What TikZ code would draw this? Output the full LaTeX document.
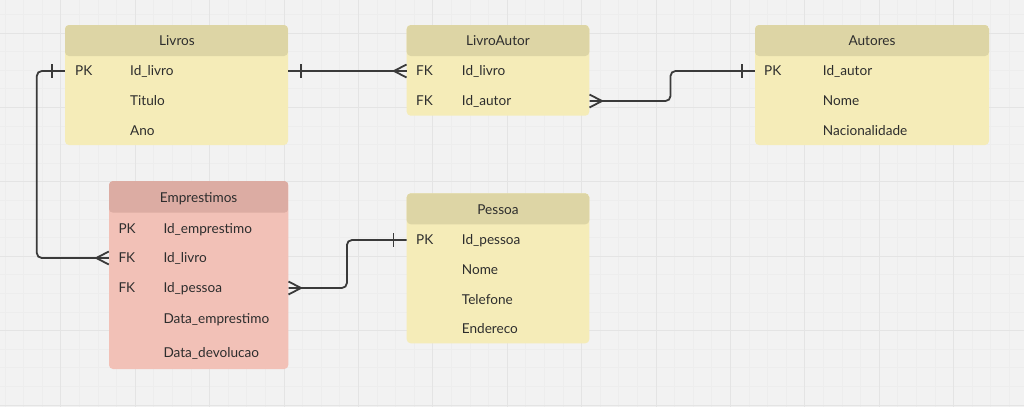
\documentclass[tikz,border=0pt]{standalone}
\usepackage{fontspec}
\setmainfont{Lato}
\definecolor{bg}{RGB}{242,242,242}
\definecolor{gmaj}{RGB}{228,228,228}
\definecolor{gmin}{RGB}{237,237,237}
\definecolor{ybody}{RGB}{245,236,184}
\definecolor{yhead}{RGB}{221,213,165}
\definecolor{rbody}{RGB}{242,193,183}
\definecolor{rhead}{RGB}{220,172,163}
\definecolor{txt}{RGB}{45,45,45}
\definecolor{ln}{RGB}{58,58,58}
\tikzset{
  ytable/.style={inner sep=0pt, fill=ybody, rounded corners=4pt,
    path picture={\fill[yhead] (path picture bounding box.north west) rectangle ([yshift=-31pt]path picture bounding box.north east);}},
  rtable/.style={inner sep=0pt, fill=rbody, rounded corners=4pt,
    path picture={\fill[rhead] (path picture bounding box.north west) rectangle ([yshift=-31.7pt]path picture bounding box.north east);}},
  cell/.style={anchor=west, inner sep=0pt, text height=9.8pt, text depth=0pt, font=\fontsize{13.6}{15}\selectfont, text=txt},
  ttl/.style={anchor=center, inner sep=0pt, text height=9.8pt, text depth=0pt, font=\fontsize{13.6}{15}\selectfont, text=txt},
  conn/.style={draw=ln, line width=1.8pt, rounded corners=5pt},
  tickmark/.style={draw=ln, line width=1.8pt},
}
\begin{document}
\begin{tikzpicture}[x=1pt,y=-1pt]
\useasboundingbox (0,0) rectangle (1024,407);
\fill[bg] (0,0) rectangle (1024,407);
% grid
\foreach \i in {-3,...,52} {\draw[gmin, line width=0.8pt] ({60.8+18.6*\i},0) -- ({60.8+18.6*\i},407);}
\foreach \i in {-1,...,20} {\draw[gmin, line width=0.8pt] (0,{33+18.6*\i}) -- (1024,{33+18.6*\i});}
\foreach \i in {0,...,13} {\draw[gmaj, line width=1pt] ({60.8+74.4*\i},0) -- ({60.8+74.4*\i},407);}
\foreach \i in {0,...,5} {\draw[gmaj, line width=1pt] (0,{33+74.4*\i}) -- (1024,{33+74.4*\i});}

% Livros
\node[ytable, minimum width=223pt, minimum height=120pt] (livros) at (176.5,85) {};
\node[ttl] (lv-t) at (177,41) {Livros};
\node[cell] (lv-pk) at (75,71) {PK};
\node[cell] (lv-1) at (130,71) {Id\_livro};
\node[cell] (lv-2) at (130,101) {Titulo};
\node[cell] (lv-3) at (130,131) {Ano};

% LivroAutor
\node[ytable, minimum width=182.6pt, minimum height=90.7pt] (la) at (498,70.35) {};
\node[ttl] (la-t) at (498,41) {LivroAutor};
\node[cell] (la-fk1) at (416,71) {FK};
\node[cell] (la-1) at (461.7,71) {Id\_livro};
\node[cell] (la-fk2) at (416,101) {FK};
\node[cell] (la-2) at (461.7,101) {Id\_autor};

% Autores
\node[ytable, minimum width=234pt, minimum height=120pt] (au) at (872,85) {};
\node[ttl] (au-t) at (872,41) {Autores};
\node[cell] (au-pk) at (764,71) {PK};
\node[cell] (au-1) at (822.7,71) {Id\_autor};
\node[cell] (au-2) at (822.7,101) {Nome};
\node[cell] (au-3) at (822.7,131) {Nacionalidade};

% Emprestimos
\node[rtable, minimum width=179.3pt, minimum height=188pt] (em) at (198.65,275) {};
\node[ttl] (em-t) at (198.65,197.3) {Emprestimos};
\node[cell] (em-pk) at (118.3,228.3) {PK};
\node[cell] (em-1) at (163.3,228.3) {Id\_emprestimo};
\node[cell] (em-fk1) at (118.3,258) {FK};
\node[cell] (em-2) at (163.3,258) {Id\_livro};
\node[cell] (em-fk2) at (118.3,288) {FK};
\node[cell] (em-3) at (163.3,288) {Id\_pessoa};
\node[cell] (em-4) at (163.3,318.3) {Data\_emprestimo};
\node[cell] (em-5) at (163.3,352.7) {Data\_devolucao};

% Pessoa
\node[ytable, minimum width=182.6pt, minimum height=150pt] (pe) at (498,268.3) {};
\node[ttl] (pe-t) at (498,209.3) {Pessoa};
\node[cell] (pe-pk) at (416,240) {PK};
\node[cell] (pe-1) at (461.7,240) {Id\_pessoa};
\node[cell] (pe-2) at (461.7,270) {Nome};
\node[cell] (pe-3) at (461.7,300) {Telefone};
\node[cell] (pe-4) at (461.7,329) {Endereco};

% connector Livros -> Emprestimos
\coordinate (a1) at (livros.west |- lv-pk);
\coordinate (a2) at (em.west |- em-fk1);
\draw[conn] (a1) -- ++(-28,0) |- (a2);
\draw[tickmark] ([xshift=-13pt]a1) ++(0,-7) -- ++(0,14);
\draw[tickmark] (a2) ++(-12.5,0) -- ++(12.5,-6.5) (a2) ++(-12.5,0) -- ++(12.5,6.5);

% connector Livros -> LivroAutor
\coordinate (b1) at (livros.east |- lv-1);
\coordinate (b2) at (la.west |- la-fk1);
\draw[conn] (b1) -- (b2);
\draw[tickmark] ([xshift=13pt]b1) ++(0,-7) -- ++(0,14);
\draw[tickmark] (b2) ++(-12.5,0) -- ++(12.5,-6.5) (b2) ++(-12.5,0) -- ++(12.5,6.5);

% connector LivroAutor -> Autores
\coordinate (c1) at (la.east |- la-2);
\coordinate (c2) at (au.west |- au-pk);
\draw[conn] (c1) -- ++(81,0) -- ++(0,-30) -- (c2);
\draw[tickmark] ([xshift=-13pt]c2) ++(0,-7) -- ++(0,14);
\draw[tickmark] (c1) ++(12.5,0) -- ++(-12.5,-6.5) (c1) ++(12.5,0) -- ++(-12.5,6.5);

% connector Emprestimos -> Pessoa
\coordinate (d1) at (em.east |- em-3);
\coordinate (d2) at (pe.west |- pe-pk);
\draw[conn] (d1) -- ++(58.4,0) -- ++(0,-48) -- (d2);
\draw[tickmark] ([xshift=-13pt]d2) ++(0,-7) -- ++(0,14);
\draw[tickmark] (d1) ++(12.5,0) -- ++(-12.5,-6.5) (d1) ++(12.5,0) -- ++(-12.5,6.5);
\end{tikzpicture}
\end{document}
